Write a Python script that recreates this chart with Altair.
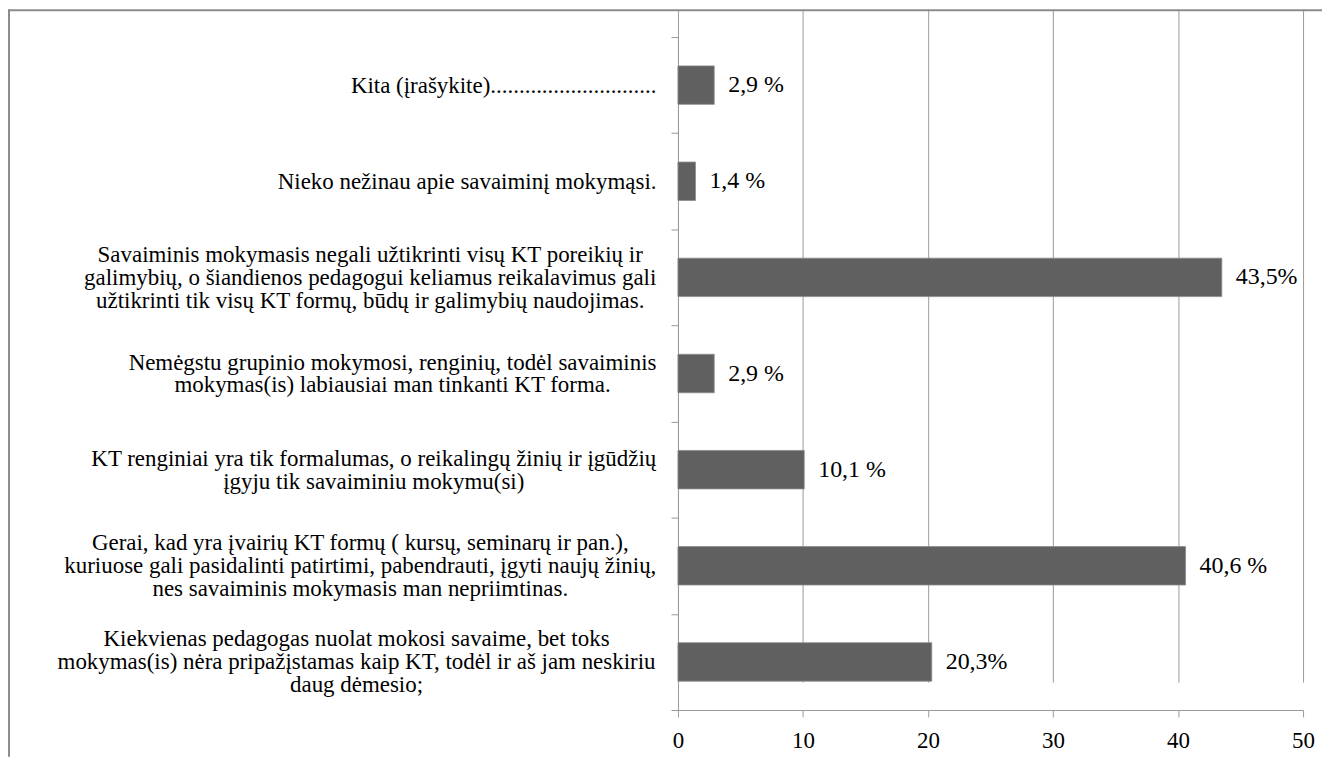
import json
import unicodedata
import altair as alt
import pandas as pd

# ---------------- data ----------------
categories = [
    "Kita (įrašykite)" + "." * 29,
    "Nieko nežinau apie savaiminį mokymąsi.",
    "Savaiminis mokymasis negali užtikrinti visų KT poreikių ir|"
    "galimybių, o šiandienos pedagogui keliamus reikalavimus gali|"
    "užtikrinti tik visų KT formų, būdų ir galimybių naudojimas.",
    "Nemėgstu grupinio mokymosi, renginių, todėl savaiminis|"
    "mokymas(is) labiausiai man tinkanti  KT forma.",
    "KT renginiai yra tik formalumas, o reikalingų žinių ir įgūdžių|"
    "įgyju tik savaiminiu mokymu(si)",
    "Gerai, kad yra įvairių KT formų ( kursų, seminarų ir pan.),|"
    "kuriuose gali pasidalinti patirtimi, pabendrauti, įgyti naujų žinių,|"
    "nes savaiminis mokymasis man nepriimtinas.",
    "Kiekvienas pedagogas  nuolat mokosi savaime, bet toks|"
    "mokymas(is) nėra pripažįstamas kaip KT, todėl ir aš jam neskiriu|"
    "daug dėmesio;",
]
values = [2.9, 1.4, 43.5, 2.9, 10.1, 40.6, 20.3]
value_labels = ["2,9 %", "1,4 %", "43,5%", "2,9 %", "10,1 %", "40,6 %", "20,3%"]
x_ticks = [0, 10, 20, 30, 40, 50]

# ---------------- style / layout ----------------
FONT = "Liberation Serif"
FS_CAT = 23          # category labels
LINE_H = 23
FS = 24              # value labels
FS_TICK = 23         # x tick labels
GRAY = "#9a9a9a"
FRAME = "#8c8c8c"
BAR = "#606060"
W, H = 1310, 703             # view; x-axis sits on its bottom edge
X_RANGE = [672, 1299]        # plot area inside the view
Y_RANGE = [28, 703]
TICK = 7
GAP = 15
PAD = {"left": 0, "top": 0, "right": 8, "bottom": 47}

# Times / Liberation Serif advance widths (1/1000 em) to centre each label block
_W = {" ": 250, "(": 333, ")": 333, ",": 250, ".": 250, ";": 278, "%": 833,
      "G": 722, "K": 722, "N": 722, "S": 556, "T": 611,
      "a": 444, "b": 500, "c": 444, "d": 500, "e": 444, "f": 333, "g": 500,
      "h": 500, "i": 278, "j": 278, "k": 500, "l": 278, "m": 778, "n": 500,
      "o": 500, "p": 500, "r": 333, "s": 389, "t": 278, "u": 500, "v": 500,
      "y": 500, "z": 444}


def text_width(s, size):
    s = " ".join(s.split())
    tot = 0
    for ch in s:
        base = unicodedata.normalize("NFD", ch)[0]
        tot += _W.get(base, 500)
    return tot / 1000 * size


pad_conds, off_conds = [], []
for c in categories:
    lines = c.split("|")
    test = "datum.value === " + json.dumps(c)
    wmax = max(text_width(line, FS_CAT) for line in lines)
    pad_conds.append({"test": test, "value": round(GAP + wmax / 2, 1)})
    # centre the whole multi-line block on the band, not just its first line
    off_conds.append({"test": test, "value": -(len(lines) - 1) * LINE_H / 2})

df = pd.DataFrame({"cat": categories, "val": values, "lab": value_labels})

y_enc = alt.Y(
    "cat:N",
    sort=categories,
    title=None,
    scale=alt.Scale(domain=categories, range=Y_RANGE, paddingInner=0, paddingOuter=0),
    axis=alt.Axis(
        orient="left", offset=-X_RANGE[0], grid=False,
        domain=True, domainColor=GRAY, domainWidth=1,
        ticks=True, tickBand="extent", tickSize=TICK, tickColor=GRAY, tickWidth=1,
        labelAlign="center", labelBaseline="middle",
        labelPadding={"condition": pad_conds, "value": GAP},
        labelOffset={"condition": off_conds, "value": 0},
        labelExpr="split(datum.label, '|')",
        labelFont=FONT, labelFontSize=FS_CAT, labelColor="#000000",
        labelLimit=0, labelLineHeight=LINE_H, labelOverlap=False,
    ),
)
x_enc = alt.X(
    "val:Q",
    title=None,
    scale=alt.Scale(domain=[0, 50], range=X_RANGE, nice=False, zero=True),
    axis=alt.Axis(
        orient="bottom", values=x_ticks, format="d",
        grid=True, gridColor=GRAY, gridWidth=1,
        domainColor=GRAY, domainWidth=1, tickColor=GRAY, tickSize=TICK, tickWidth=1,
        labelPadding=13, labelFont=FONT, labelFontSize=FS_TICK, labelColor="#000000",
        labelFlush=False, labelOverlap=False,
    ),
)

base = alt.Chart(df).encode(x=x_enc, y=y_enc)
bars = base.mark_bar(height={"band": 0.4}, fill=BAR, stroke="#8a8a8a", strokeWidth=0.8)
texts = base.mark_text(align="left", baseline="middle", dx=14, font=FONT,
                       fontSize=FS, color="#000000").encode(text="lab:N")

# outer chart frame (only its top and left edges fall inside the window)
one = pd.DataFrame({"k": [0]})
frame_top = alt.Chart(one).mark_rule(color=FRAME, strokeWidth=2).encode(
    x=alt.value(0), x2=alt.value(W + PAD["right"]), y=alt.value(1))
frame_left = alt.Chart(one).mark_rule(color=FRAME, strokeWidth=2).encode(
    x=alt.value(1), y=alt.value(0), y2=alt.value(H + PAD["bottom"]))

chart = (
    alt.layer(frame_top, frame_left, bars, texts)
    .properties(width=W, height=H, padding=PAD, background="white",
                autosize=alt.AutoSizeParams(type="none"))
    .configure_view(strokeWidth=0)
)

chart.save("out.html", embed_options={"renderer": "svg", "actions": False})
